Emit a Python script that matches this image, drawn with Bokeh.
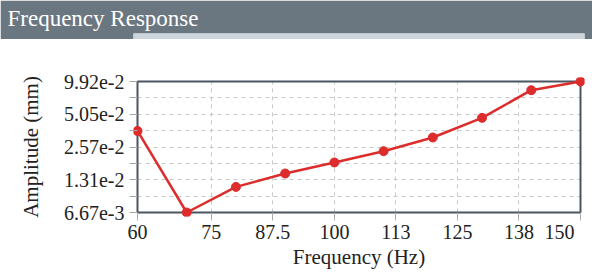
import math
from bokeh.plotting import figure
from bokeh.models import Range1d, FixedTicker, Grid
from bokeh.layouts import column
from bokeh.embed import file_html
from bokeh.resources import INLINE

# ---- data ----
freq = [60, 70, 80, 90, 100, 110, 120, 130, 140, 150]
amplitude = [0.0358, 0.00667, 0.0113, 0.0149, 0.0187, 0.0236, 0.0313, 0.0469, 0.0829, 0.0992]

x_ticks = [60, 75, 87.5, 100, 112.5, 125, 137.5, 150]
x_tick_labels = ["60", "75", "87.5", "100", "113", "125", "138", "150"]
y_ticks = [6.67e-3, 1.31e-2, 2.57e-2, 5.05e-2, 9.92e-2]
y_tick_labels = ["6.67e-3", "1.31e-2", "2.57e-2", "5.05e-2", "9.92e-2"]

title_text = "Frequency Response"
x_label = "Frequency (Hz)"
y_label = "Amplitude (mm)"

FONT = "Liberation Serif"
TEXT = "#222222"
RED = "#dd2c2c"
BAR = "#6b7780"
STRIP = "#cdd5dc"

W = 592
TB_H = 39
H = 277 - TB_H
box_left, box_right = 137, 580
box_top, box_bottom = 81 - TB_H, 212 - TB_H
pad = 4
frame_left, frame_right = box_left - pad, box_right + pad
last_label_shift = 21  # px the last x label is pulled inward

# ---- title bar ----
tb = figure(width=W, height=TB_H, x_range=Range1d(0, 1), y_range=Range1d(0, 1),
            x_axis_type=None, y_axis_type=None, toolbar_location=None, tools="",
            output_backend="svg", min_border_left=0, min_border_right=0,
            min_border_top=13, min_border_bottom=0,
            background_fill_color=STRIP, border_fill_color=BAR,
            outline_line_color=None, title=title_text)
tb.title.text_font = FONT
tb.title.text_font_size = "23px"
tb.title.text_font_style = "normal"
tb.title.text_color = "white"
tb.title.align = "left"
tb.title.standoff = 6
tb.title.offset = 7 - frame_left

# ---- main plot ----
xmin, xmax = min(x_ticks), max(x_ticks)
ymin, ymax = min(y_ticks), max(y_ticks)
px_per_x = (box_right - box_left) / (xmax - xmin)
dec_per_px = math.log10(ymax / ymin) / (box_bottom - box_top)
padx = pad / px_per_x
pady = 10 ** (pad * dec_per_px)

p = figure(width=W, height=H, y_axis_type="log",
           x_range=Range1d(xmin - padx, xmax + padx),
           y_range=Range1d(ymin / pady, ymax * pady),
           toolbar_location=None, output_backend="svg",
           min_border_left=frame_left, min_border_right=W - frame_right,
           min_border_top=box_top - pad, min_border_bottom=H - box_bottom - pad,
           background_fill_color="white", border_fill_color="white",
           outline_line_color=None)

# x axis: label positions as major ticks (last one pulled inside), real ticks as minor
label_pos = list(x_ticks)
label_pos[-1] = x_ticks[-1] - last_label_shift / px_per_x
p.xaxis.ticker = FixedTicker(ticks=label_pos, minor_ticks=x_ticks)
p.xaxis.major_label_overrides = {t: l for t, l in zip(label_pos, x_tick_labels)}
p.xaxis.major_tick_line_color = None
p.xaxis.minor_tick_line_color = "#aaaaaa"
p.xaxis.minor_tick_in = pad
p.xaxis.minor_tick_out = 4
p.xaxis.major_tick_in = 0
p.xaxis.major_tick_out = 4

minor_y = [math.sqrt(a * b) for a, b in zip(y_ticks[:-1], y_ticks[1:])]
p.yaxis.ticker = FixedTicker(ticks=y_ticks, minor_ticks=minor_y)
p.yaxis.major_label_overrides = {t: l for t, l in zip(y_ticks, y_tick_labels)}
p.yaxis.major_tick_line_color = "#aaaaaa"
p.yaxis.major_tick_in = pad
p.yaxis.major_tick_out = 4
p.yaxis.minor_tick_line_color = "#aaaaaa"
p.yaxis.minor_tick_in = pad
p.yaxis.minor_tick_out = 4

for ax in (p.xaxis[0], p.yaxis[0]):
    ax.axis_line_color = None
    ax.major_label_text_font = FONT
    ax.major_label_text_color = TEXT
    ax.major_label_text_font_size = "20px"
    ax.axis_label_text_font = FONT
    ax.axis_label_text_color = TEXT
    ax.axis_label_text_font_style = "normal"
    ax.axis_label_text_font_size = "21px"

p.xaxis.major_label_standoff = 4
p.yaxis.major_label_standoff = 5
p.xaxis.axis_label = x_label
p.yaxis.axis_label = y_label
p.xaxis.axis_label_standoff = 3
p.yaxis.axis_label_standoff = 18

# grids
p.xgrid.ticker = FixedTicker(ticks=x_ticks)
for g in (p.xgrid[0], p.ygrid[0]):
    g.grid_line_color = "#c8c8c8"
    g.grid_line_dash = "4 4"
    g.grid_line_width = 1
p.ygrid.minor_grid_line_color = "#c8c8c8"
p.ygrid.minor_grid_line_dash = "4 4"
if "cross_bounds" in Grid.properties():
    p.xgrid.cross_bounds = (ymin, ymax)
    p.ygrid.cross_bounds = (xmin, xmax)

# data box
p.quad(left=[xmin], right=[xmax], bottom=[ymin], top=[ymax],
       fill_color=None, line_color="#4a5560", line_width=2)

# series
p.line(freq, amplitude, line_color=RED, line_width=2.5)
p.scatter(freq, amplitude, size=9, fill_color=RED, line_color=RED)

layout = column(tb, p, spacing=0)
open("out.html", "w").write(file_html(layout, INLINE))
